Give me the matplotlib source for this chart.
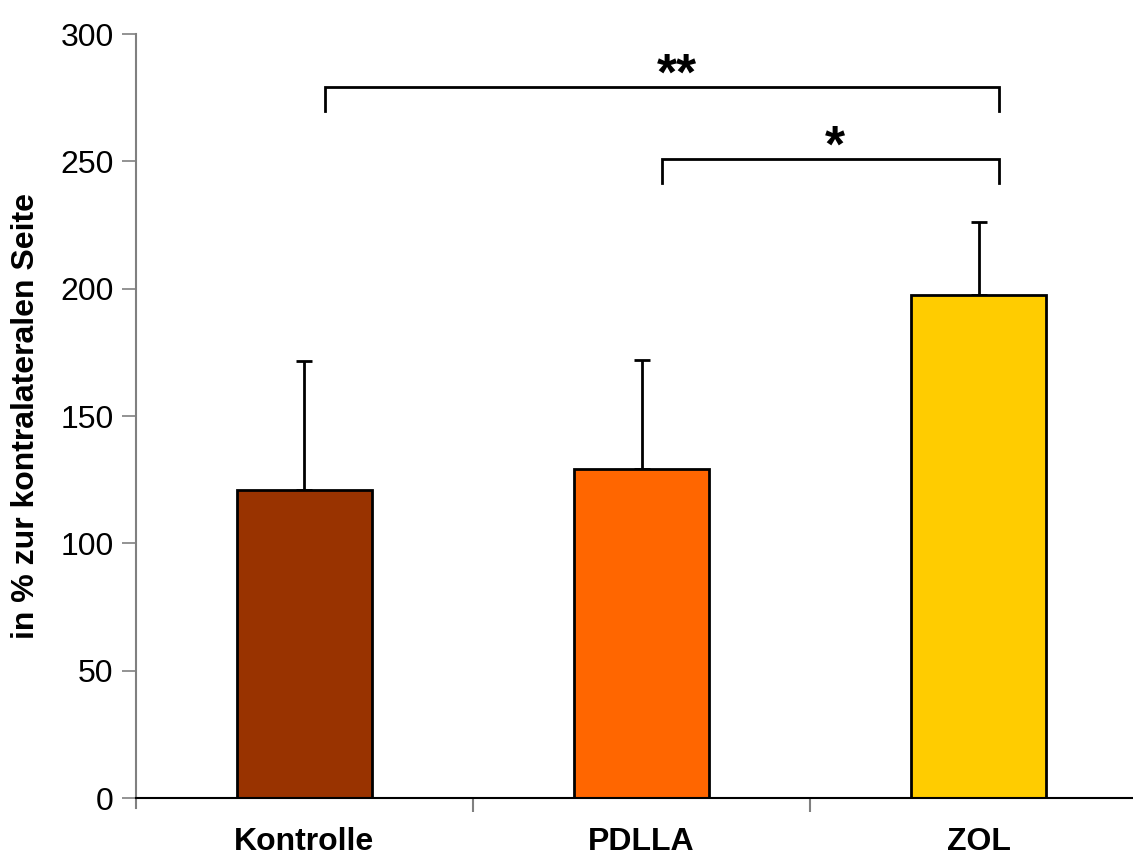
import matplotlib
matplotlib.use("Agg")
import matplotlib.pyplot as plt

plt.rcParams['font.family'] = ['Liberation Sans', 'DejaVu Sans']

groups = ["Kontrolle", "PDLLA", "ZOL"]
means = [121, 129.3, 197.5]
sd_upper = [50.6, 42.7, 28.5]
colors = ["#993300", "#FF6600", "#FFCC00"]

# significance brackets: (from group, to group, height, label, label x-nudge)
sig_pairs = [(0, 2, 279.3, "**", 0.045), (1, 2, 251.0, "*", 0.015)]
bracket_drop = 9.5
bracket_shift = 0.06

yticks = [0, 50, 100, 150, 200, 250, 300]

fig = plt.figure(figsize=(11.33, 8.57), dpi=100)
ax = fig.add_axes([0.12, 0.0688, 1.0124 - 0.12, 0.9603 - 0.0688])

x = list(range(len(groups)))
ax.bar(x, means, width=0.4, color=colors, edgecolor="black", linewidth=2.0, zorder=2)
ax.errorbar(x, means, yerr=[[0] * len(means), sd_upper], fmt="none",
            ecolor="black", elinewidth=2.0, capsize=6, capthick=2.0, zorder=1)

for i, j, h, lab, dx in sig_pairs:
    x0 = i + bracket_shift
    x1 = j + bracket_shift
    ax.plot([x0, x0, x1, x1], [h - bracket_drop, h, h, h - bracket_drop],
            color="black", lw=2.0, solid_joinstyle="miter", clip_on=False)
    ax.text((x0 + x1) / 2 + dx, h - 1.3, lab, ha="center", va="baseline",
            fontsize=37, fontweight="bold")

ax.set_xlim(-0.5, 2.5)
ax.set_ylim(0, 300)
ax.set_yticks(yticks)
ax.set_yticklabels([str(v) for v in yticks], fontsize=23)
ax.set_xticks([0.5, 1.5])
ax.set_xticklabels([])
ax.tick_params(axis="x", direction="out", length=10, width=1.5, color="#808080")
ax.tick_params(axis="y", direction="out", length=10, width=1.2, color="#808080", pad=6)
ax.set_xticks(x, minor=True)
ax.set_xticklabels(groups, minor=True, fontsize=23, fontweight="bold")
ax.tick_params(axis="x", which="minor", length=0, pad=21)

for s in ["top", "right"]:
    ax.spines[s].set_visible(False)
ax.spines["left"].set_color("#808080")
ax.spines["left"].set_linewidth(1.5)
ax.spines["left"].set_bounds(-4, 300)
ax.spines["bottom"].set_color("black")
ax.spines["bottom"].set_linewidth(1.5)

ax.set_ylabel("in % zur kontralateralen Seite", fontsize=23, fontweight="bold", labelpad=14)

fig.savefig("out.png", dpi=100)
